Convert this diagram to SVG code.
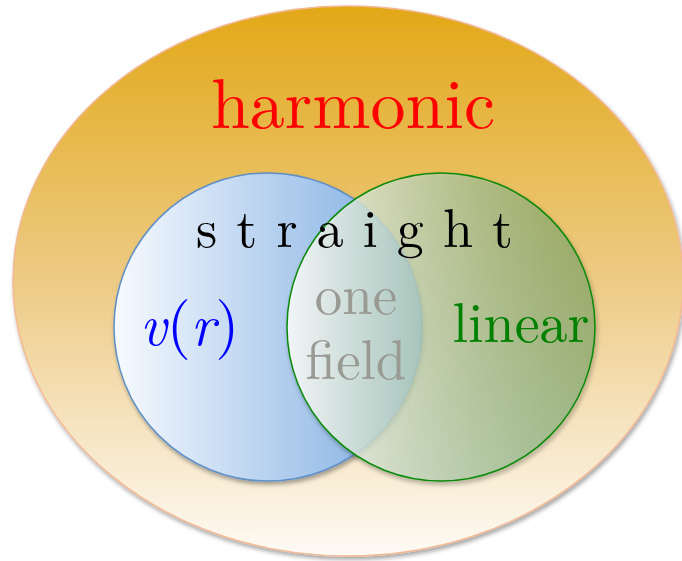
<svg xmlns="http://www.w3.org/2000/svg" width="682" height="561" viewBox="0 0 682 561">
<defs>
<linearGradient id="gOrange" x1="0" y1="0" x2="0" y2="1">
<stop offset="0" stop-color="#E2A817"/>
<stop offset="0.5" stop-color="#EDCB85"/>
<stop offset="1" stop-color="#FEFAF5"/>
</linearGradient>
<linearGradient id="gBlue" x1="0" y1="0" x2="1" y2="0">
<stop offset="0" stop-color="#F7FAFE"/>
<stop offset="1" stop-color="#78A9E0"/>
</linearGradient>
<linearGradient id="gGreen" x1="0" y1="0" x2="1" y2="0">
<stop offset="0" stop-color="#FFFFFF" stop-opacity="0.85"/>
<stop offset="1" stop-color="#6AA262" stop-opacity="0.5"/>
</linearGradient>
<filter id="shadow" x="-10%" y="-10%" width="125%" height="125%">
<feDropShadow dx="1.5" dy="3" stdDeviation="2" flood-color="#000" flood-opacity="0.35"/>
</filter>
</defs>
<style>
.lbl{font-family:"Latin Modern Roman","Liberation Serif","DejaVu Serif",serif;}
</style>
<g id="harmonic">
<ellipse cx="348" cy="281" rx="335" ry="275" fill="url(#gOrange)" stroke="#F2B995" stroke-width="1.5" filter="url(#shadow)"/>
<text class="lbl" x="353" y="128" font-size="70" fill="#FF0000" text-anchor="middle">harmonic</text>
</g>
<g id="vr">
<circle cx="268" cy="327" r="154" fill="url(#gBlue)" stroke="#5E8FC8" stroke-width="1.5" filter="url(#shadow)"/>
</g>
<g id="linear">
<circle cx="441" cy="327" r="154" fill="url(#gGreen)" stroke="#0A8A0A" stroke-width="1.5" filter="url(#shadow)"/>
</g>
<g id="labels">
<text class="lbl" x="196" y="247" font-size="54" fill="#000" textLength="317" lengthAdjust="spacing">s t r a i g h t</text>
<text class="lbl" x="140" y="345" font-size="58" fill="#0000FF"><tspan font-style="italic">v</tspan><tspan font-size="62">(</tspan><tspan font-style="italic">r</tspan><tspan font-size="62">)</tspan></text>
<text class="lbl" x="356" y="314" font-size="55" fill="#9A9A94" text-anchor="middle">one</text>
<text class="lbl" x="356" y="379" font-size="55" fill="#9A9A94" text-anchor="middle">field</text>
<text class="lbl" x="521" y="342" font-size="56" fill="#008000" text-anchor="middle">linear</text>
</g>
</svg>
